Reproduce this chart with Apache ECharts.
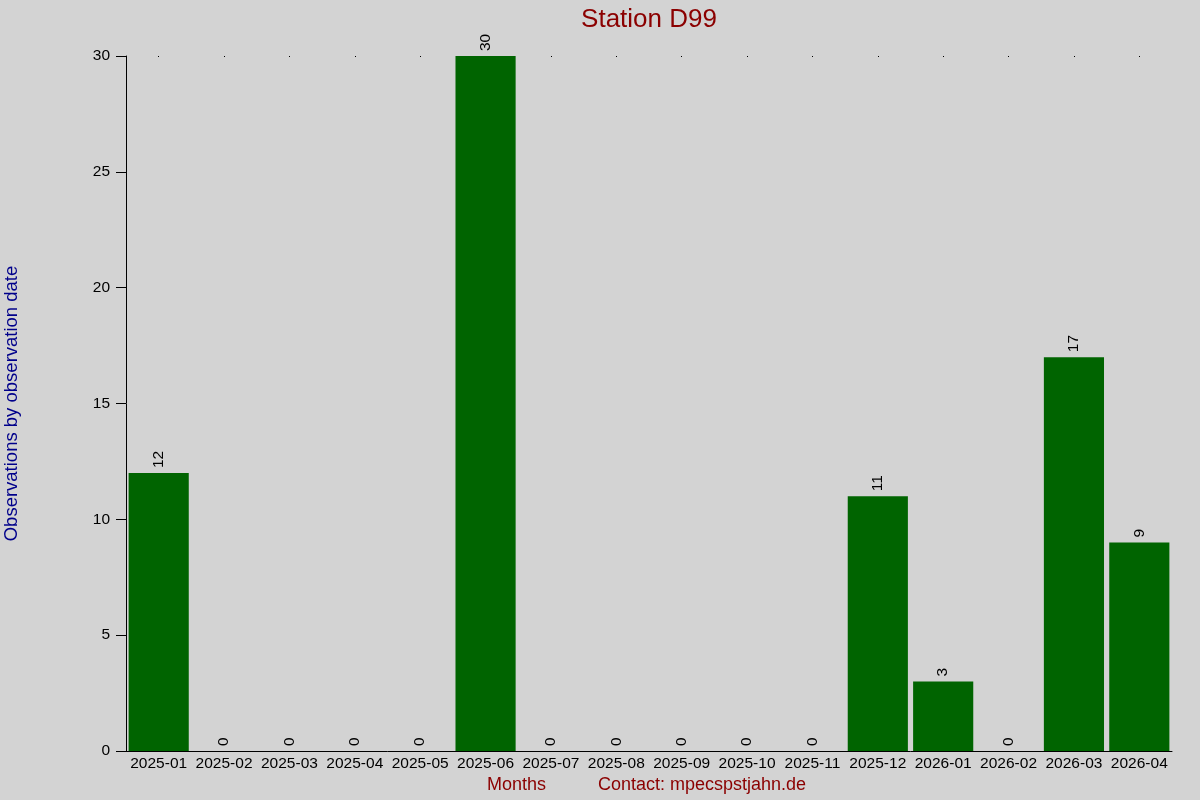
<!DOCTYPE html>
<html>
<head>
<meta charset="utf-8">
<script src="https://cdn.jsdelivr.net/npm/echarts@6/dist/echarts.min.js"></script>
<style>
  html, body { margin: 0; padding: 0; background: #d3d3d3; }
  #chart { width: 1200px; height: 800px; }
</style>
</head>
<body>
<div id="chart"></div>
<script>
// monthly observation counts
const months = ["2025-01", "2025-02", "2025-03", "2025-04", "2025-05", "2025-06", "2025-07", "2025-08",
  "2025-09", "2025-10", "2025-11", "2025-12", "2026-01", "2026-02", "2026-03", "2026-04"];
const counts = [12, 0, 0, 0, 0, 30, 0, 0, 0, 0, 0, 11, 3, 0, 17, 9];
const yTicks = [0, 5, 10, 15, 20, 25, 30];

const FONT = "Liberation Sans, Arial, sans-serif";
const chart = echarts.init(document.getElementById("chart"));

chart.setOption({
  backgroundColor: "#d3d3d3",
  animation: false,
  textStyle: { fontFamily: FONT },
  title: {
    text: "Station D99",
    left: 644, top: 2, textAlign: "center",
    textStyle: { color: "#8b0000", fontSize: 26, fontWeight: "normal", fontFamily: FONT }
  },
  grid: { left: 126, right: 28, top: 56, bottom: 49, containLabel: false, outerBoundsMode: "none" },
  xAxis: [{
    type: "category",
    data: months,
    axisLine: { lineStyle: { color: "#000", width: 1 } },
    axisTick: { show: false },
    axisLabel: { color: "#000", fontSize: 15.5, margin: 5, interval: 0, fontFamily: FONT }
  }, {
    // little dots along the top edge
    type: "category",
    data: months,
    position: "top",
    axisLine: { show: false },
    axisTick: { show: true, inside: true, length: 1, alignWithLabel: true, lineStyle: { color: "#000" } },
    axisLabel: { show: false }
  }],
  yAxis: {
    type: "value",
    min: yTicks[0], max: yTicks[yTicks.length - 1], interval: 5,
    name: "Observations by observation date",
    nameLocation: "middle",
    nameGap: 105,
    nameTextStyle: { color: "#00008b", fontSize: 18.5, fontFamily: FONT },
    axisLine: { show: true, lineStyle: { color: "#000", width: 1 } },
    axisTick: { show: true, length: 10, lineStyle: { color: "#000" } },
    axisLabel: { color: "#000", fontSize: 15.5, margin: 16, fontFamily: FONT },
    splitLine: { show: false }
  },
  series: [{
    type: "bar",
    data: counts,
    barCategoryGap: "8%",
    itemStyle: { color: "#006400" },
    label: {
      show: true, position: "top", rotate: 90, distance: 5,
      align: "left", verticalAlign: "middle",
      color: "#000", fontSize: 15.5, fontFamily: FONT
    }
  }],
  graphic: [
    { type: "text", left: 487, top: 776, style: { text: "Months", fill: "#8b0000", font: "18px " + FONT } },
    { type: "text", left: 598, top: 776, style: { text: "Contact: mpecspstjahn.de", fill: "#8b0000", font: "18px " + FONT } }
  ]
});
</script>
</body>
</html>
